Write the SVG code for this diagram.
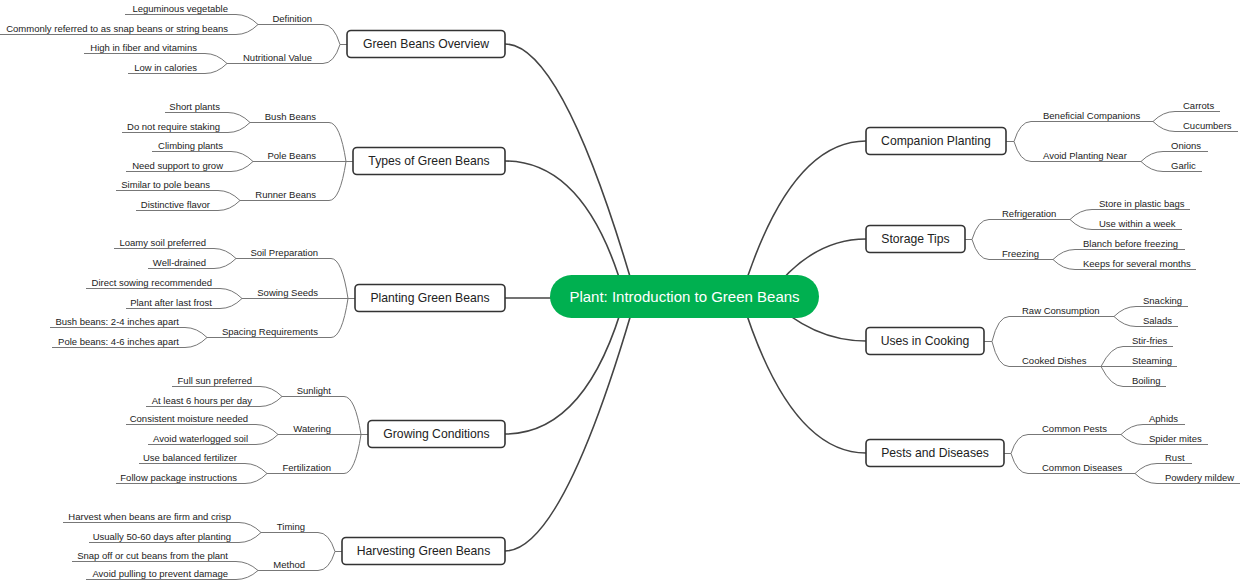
<svg xmlns="http://www.w3.org/2000/svg" width="1240" height="580" viewBox="0 0 1240 580">
<style>
.box{fill:#fff;stroke:#333;stroke-width:1.6}
.t1{font-family:"Liberation Sans",Arial,sans-serif;font-size:12.2px;fill:#222;text-anchor:middle}
.t2{font-family:"Liberation Sans",Arial,sans-serif;font-size:9.5px;fill:#222}
.l{text-anchor:end}
.r{text-anchor:start}
.c0{fill:none;stroke:#444;stroke-width:1.6}
.c1{fill:none;stroke:#777;stroke-width:1}
</style>
<rect width="1240" height="580" fill="#fff"/>
<g id="connectors">
<g class="c0">
<path d="M505 44 Q563 44 636 297"/>
<path d="M505 161 Q587 161 625 297"/>
<path d="M505 298 L600 298"/>
<path d="M505 434 Q587 434 625 297"/>
<path d="M505 551 Q563 551 636 297"/>
<path d="M866 141 Q789 141 741 297"/>
<path d="M866 239 Q810 239 768 297"/>
<path d="M866 341 Q812 341 768 297"/>
<path d="M866 453 Q789 453 741 297"/>
</g>
<g class="c1" transform="translate(0,0.5)">
<path d="M347 44 H340"/>
<path d="M340 44 Q334 24 323 24 H258"/>
<path d="M258 24 Q248 14 236 14 H125"/>
<path d="M258 24 Q248 34 236 34 H0"/>
<path d="M340 44 Q334 63 323 63 H227"/>
<path d="M227 63 Q217 53 205 53 H84"/>
<path d="M227 63 Q217 73 205 73 H128"/>
<path d="M353 161 H346"/>
<path d="M346 161 Q340 122 329 122 H250"/>
<path d="M250 122 Q240 112 228 112 H165"/>
<path d="M250 122 Q240 132 228 132 H122"/>
<path d="M346 161 H253"/>
<path d="M253 161 Q243 151 231 151 H152"/>
<path d="M253 161 Q243 171 231 171 H126"/>
<path d="M346 161 Q340 200 329 200 H240"/>
<path d="M240 200 Q230 190 218 190 H116"/>
<path d="M240 200 Q230 210 218 210 H136"/>
<path d="M355 298 H348"/>
<path d="M348 298 Q342 258 331 258 H236"/>
<path d="M236 258 Q226 248 214 248 H114"/>
<path d="M236 258 Q226 268 214 268 H148"/>
<path d="M348 298 H242"/>
<path d="M242 298 Q232 288 220 288 H86"/>
<path d="M242 298 Q232 308 220 308 H126"/>
<path d="M348 298 Q342 337 331 337 H207"/>
<path d="M207 337 Q197 327 185 327 H50"/>
<path d="M207 337 Q197 347 185 347 H52"/>
<path d="M368 434 H361"/>
<path d="M361 434 Q355 396 344 396 H282"/>
<path d="M282 396 Q272 386 260 386 H172"/>
<path d="M282 396 Q272 406 260 406 H146"/>
<path d="M361 434 H278"/>
<path d="M278 434 Q268 424 256 424 H126"/>
<path d="M278 434 Q268 444 256 444 H148"/>
<path d="M361 434 Q355 473 344 473 H267"/>
<path d="M267 473 Q257 463 245 463 H139"/>
<path d="M267 473 Q257 483 245 483 H116"/>
<path d="M342 551 H335"/>
<path d="M335 551 Q329 532 318 532 H261"/>
<path d="M261 532 Q251 522 239 522 H63"/>
<path d="M261 532 Q251 542 239 542 H89"/>
<path d="M335 551 Q329 570 318 570 H258"/>
<path d="M258 570 Q248 561 236 561 H72"/>
<path d="M258 570 Q248 579 236 579 H86"/>
<path d="M1006 141 H1014"/>
<path d="M1014 141 Q1020 121 1031 121 H1153"/>
<path d="M1153 121 Q1163 111 1175 111 H1220"/>
<path d="M1153 121 Q1163 131 1175 131 H1238"/>
<path d="M1014 141 Q1020 161 1031 161 H1141"/>
<path d="M1141 161 Q1151 151 1163 151 H1208"/>
<path d="M1141 161 Q1151 171 1163 171 H1202"/>
<path d="M965 239 H972"/>
<path d="M972 239 Q978 219 989 219 H1070"/>
<path d="M1070 219 Q1080 209 1092 209 H1190"/>
<path d="M1070 219 Q1080 229 1092 229 H1182"/>
<path d="M972 239 Q978 259 989 259 H1053"/>
<path d="M1053 259 Q1063 249 1075 249 H1185"/>
<path d="M1053 259 Q1063 269 1075 269 H1196"/>
<path d="M984 341 H992"/>
<path d="M992 341 Q998 316 1009 316 H1114"/>
<path d="M1114 316 Q1124 306 1136 306 H1188"/>
<path d="M1114 316 Q1124 326 1136 326 H1178"/>
<path d="M992 341 Q998 366 1009 366 H1101"/>
<path d="M1101 366 Q1111 346 1123 346 H1173"/>
<path d="M1101 366 H1177"/>
<path d="M1101 366 Q1111 386 1123 386 H1166"/>
<path d="M1004 453 H1011"/>
<path d="M1011 453 Q1017 434 1028 434 H1121"/>
<path d="M1121 434 Q1131 424 1143 424 H1185"/>
<path d="M1121 434 Q1131 444 1143 444 H1208"/>
<path d="M1011 453 Q1017 473 1028 473 H1135"/>
<path d="M1135 473 Q1145 463 1157 463 H1192"/>
<path d="M1135 473 Q1145 483 1157 483 H1240"/>
</g>
</g>

<g id="root">
<rect x="550" y="275" width="269" height="43" rx="21.5" fill="#00b050"/>
<text x="684.5" y="302.3" font-family="Liberation Sans, Arial, sans-serif" font-size="15" fill="#fff" text-anchor="middle">Plant: Introduction to Green Beans</text>
</g>

<g id="overview"><rect class="box" x="347" y="30.5" width="158" height="27" rx="4"/><text class="t1" x="426" y="48.3">Green Beans Overview</text></g>
<g id="types"><rect class="box" x="353" y="147.5" width="152" height="27" rx="4"/><text class="t1" x="429" y="165.3">Types of Green Beans</text></g>
<g id="planting"><rect class="box" x="355" y="284.5" width="150" height="27" rx="4"/><text class="t1" x="430" y="302.3">Planting Green Beans</text></g>
<g id="growing"><rect class="box" x="368" y="420.5" width="137" height="27" rx="4"/><text class="t1" x="436.5" y="438.3">Growing Conditions</text></g>
<g id="harvesting"><rect class="box" x="342" y="537.5" width="163" height="27" rx="4"/><text class="t1" x="423.5" y="555.3">Harvesting Green Beans</text></g>
<g id="companion"><rect class="box" x="866" y="127.5" width="140" height="27" rx="4"/><text class="t1" x="936" y="145.3">Companion Planting</text></g>
<g id="storage"><rect class="box" x="866" y="225.5" width="99" height="27" rx="4"/><text class="t1" x="915.5" y="243.3">Storage Tips</text></g>
<g id="uses"><rect class="box" x="866" y="327.5" width="118" height="27" rx="4"/><text class="t1" x="925" y="345.3">Uses in Cooking</text></g>
<g id="pests"><rect class="box" x="866" y="439.5" width="138" height="27" rx="4"/><text class="t1" x="935" y="457.3">Pests and Diseases</text></g>

<g class="t2 l">
<g id="definition"><text x="312" y="21.5">Definition</text></g>
<g id="leguminous"><text x="228" y="11.5">Leguminous vegetable</text></g>
<g id="commonly"><text x="228" y="31.5">Commonly referred to as snap beans or string beans</text></g>
<g id="nutritional"><text x="312" y="60.5">Nutritional Value</text></g>
<g id="fiber"><text x="197" y="50.5">High in fiber and vitamins</text></g>
<g id="calories"><text x="197" y="70.5">Low in calories</text></g>

<g id="bush"><text x="316" y="119.5">Bush Beans</text></g>
<g id="short"><text x="220" y="109.5">Short plants</text></g>
<g id="staking"><text x="220" y="129.5">Do not require staking</text></g>
<g id="pole"><text x="316" y="158.5">Pole Beans</text></g>
<g id="climbing"><text x="223" y="148.5">Climbing plants</text></g>
<g id="support"><text x="223" y="168.5">Need support to grow</text></g>
<g id="runner"><text x="316" y="197.5">Runner Beans</text></g>
<g id="similar"><text x="210" y="187.5">Similar to pole beans</text></g>
<g id="flavor"><text x="210" y="207.5">Distinctive flavor</text></g>

<g id="soil"><text x="318" y="255.5">Soil Preparation</text></g>
<g id="loamy"><text x="206" y="245.5">Loamy soil preferred</text></g>
<g id="drained"><text x="206" y="265.5">Well-drained</text></g>
<g id="sowing"><text x="318" y="295.5">Sowing Seeds</text></g>
<g id="direct"><text x="212" y="285.5">Direct sowing recommended</text></g>
<g id="frost"><text x="212" y="305.5">Plant after last frost</text></g>
<g id="spacing"><text x="318" y="334.5">Spacing Requirements</text></g>
<g id="bushsp"><text x="179" y="324.5">Bush beans: 2-4 inches apart</text></g>
<g id="polesp"><text x="179" y="344.5">Pole beans: 4-6 inches apart</text></g>

<g id="sunlight"><text x="331" y="393.5">Sunlight</text></g>
<g id="fullsun"><text x="252" y="383.5">Full sun preferred</text></g>
<g id="hours"><text x="252" y="403.5">At least 6 hours per day</text></g>
<g id="watering"><text x="331" y="431.5">Watering</text></g>
<g id="moisture"><text x="248" y="421.5">Consistent moisture needed</text></g>
<g id="waterlogged"><text x="248" y="441.5">Avoid waterlogged soil</text></g>
<g id="fertilization"><text x="331" y="470.5">Fertilization</text></g>
<g id="balanced"><text x="237" y="460.5">Use balanced fertilizer</text></g>
<g id="package"><text x="237" y="480.5">Follow package instructions</text></g>

<g id="timing"><text x="305" y="529.5">Timing</text></g>
<g id="firm"><text x="231" y="519.5">Harvest when beans are firm and crisp</text></g>
<g id="days"><text x="231" y="539.5">Usually 50-60 days after planting</text></g>
<g id="method"><text x="305" y="567.5">Method</text></g>
<g id="snap"><text x="228" y="558.5">Snap off or cut beans from the plant</text></g>
<g id="pulling"><text x="228" y="576.5">Avoid pulling to prevent damage</text></g>
</g>

<g class="t2 r">
<g id="beneficial"><text x="1043" y="118.5">Beneficial Companions</text></g>
<g id="carrots"><text x="1183" y="108.5">Carrots</text></g>
<g id="cucumbers"><text x="1183" y="128.5">Cucumbers</text></g>
<g id="avoid"><text x="1043" y="158.5">Avoid Planting Near</text></g>
<g id="onions"><text x="1171" y="148.5">Onions</text></g>
<g id="garlic"><text x="1171" y="168.5">Garlic</text></g>

<g id="refrigeration"><text x="1002" y="216.5">Refrigeration</text></g>
<g id="plastic"><text x="1099" y="206.5">Store in plastic bags</text></g>
<g id="week"><text x="1099" y="226.5">Use within a week</text></g>
<g id="freezing"><text x="1002" y="256.5">Freezing</text></g>
<g id="blanch"><text x="1083" y="246.5">Blanch before freezing</text></g>
<g id="months"><text x="1083" y="266.5">Keeps for several months</text></g>

<g id="raw"><text x="1022" y="313.5">Raw Consumption</text></g>
<g id="snacking"><text x="1143" y="303.5">Snacking</text></g>
<g id="salads"><text x="1143" y="323.5">Salads</text></g>
<g id="cooked"><text x="1022" y="363.5">Cooked Dishes</text></g>
<g id="stirfries"><text x="1132" y="343.5">Stir-fries</text></g>
<g id="steaming"><text x="1132" y="363.5">Steaming</text></g>
<g id="boiling"><text x="1132" y="383.5">Boiling</text></g>

<g id="commonpests"><text x="1042" y="431.5">Common Pests</text></g>
<g id="aphids"><text x="1149" y="421.5">Aphids</text></g>
<g id="mites"><text x="1149" y="441.5">Spider mites</text></g>
<g id="diseases"><text x="1042" y="470.5">Common Diseases</text></g>
<g id="rust"><text x="1165" y="460.5">Rust</text></g>
<g id="mildew"><text x="1165" y="480.5">Powdery mildew</text></g>
</g>
</svg>
